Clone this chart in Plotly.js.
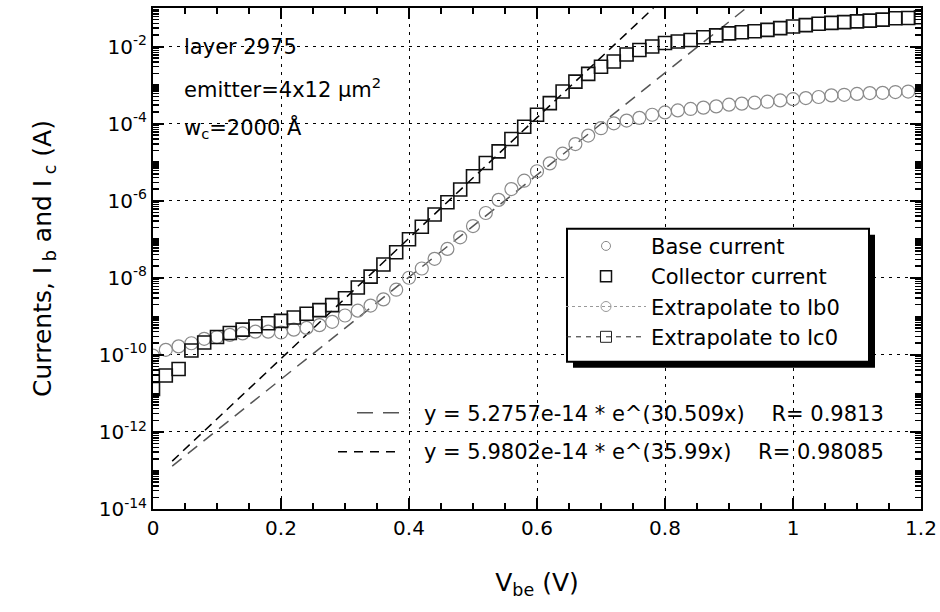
<!DOCTYPE html>
<html>
<head>
<meta charset="utf-8">
<script src="https://cdn.plot.ly/plotly-3.0.1.min.js"></script>
<style>html,body{margin:0;padding:0;background:#fff;}#chart{width:940px;height:612px;}</style>
</head>
<body>
<div id="chart"></div>
<script>
// Vbe (V)
const vbe = [0.00,0.02,0.04,0.06,0.08,0.10,0.12,0.14,0.16,0.18,0.20,0.22,0.24,0.26,0.28,0.30,0.32,0.34,0.36,0.38,0.40,0.42,0.44,0.46,0.48,0.50,0.52,0.54,0.56,0.58,0.60,0.62,0.64,0.66,0.68,0.70,0.72,0.74,0.76,0.78,0.80,0.82,0.84,0.86,0.88,0.90,0.92,0.94,0.96,0.98,1.00,1.02,1.04,1.06,1.08,1.10,1.12,1.14,1.16,1.18,1.20];
// Base current Ib (A)
const baseCurrent = [9.5e-11,1.35e-10,1.66e-10,2.0e-10,2.6e-10,2.9e-10,3.3e-10,3.6e-10,4.0e-10,4.0e-10,3.8e-10,4.5e-10,5.0e-10,5.9e-10,7.2e-10,1.05e-9,1.4e-9,1.9e-9,2.75e-9,4.9e-9,1.0e-8,1.74e-8,3.1e-8,5.6e-8,1.12e-7,2.2e-7,4.8e-7,1.05e-6,2.0e-6,3.3e-6,5.8e-6,9.3e-6,1.66e-5,2.95e-5,4.9e-5,7.6e-5,1.02e-4,1.2e-4,1.41e-4,1.7e-4,1.95e-4,2.2e-4,2.4e-4,2.6e-4,2.8e-4,3.1e-4,3.3e-4,3.5e-4,3.7e-4,4.0e-4,4.3e-4,4.6e-4,4.9e-4,5.4e-4,5.6e-4,5.9e-4,6.2e-4,6.3e-4,6.6e-4,6.8e-4,6.9e-4];
// Collector current Ic (A)
const collectorCurrent = [1.3e-11,2.9e-11,4.3e-11,1.3e-10,2.1e-10,2.9e-10,3.7e-10,4.5e-10,5.5e-10,6.6e-10,7.6e-10,9.3e-10,1.17e-9,1.45e-9,1.95e-9,2.95e-9,5.6e-9,1.07e-8,2.2e-8,4.6e-8,1.0e-7,2.1e-7,4.4e-7,9.1e-7,1.95e-6,4.3e-6,9.5e-6,1.9e-5,4.0e-5,8.3e-5,1.7e-4,3.4e-4,6.8e-4,1.23e-3,1.95e-3,3.0e-3,4.1e-3,6.2e-3,8.1e-3,1.0e-2,1.23e-2,1.35e-2,1.48e-2,1.74e-2,1.95e-2,2.2e-2,2.35e-2,2.5e-2,2.7e-2,3.0e-2,3.3e-2,3.6e-2,3.9e-2,4.1e-2,4.3e-2,4.5e-2,4.7e-2,5.0e-2,5.4e-2,5.5e-2,5.75e-2];
// Extrapolated fit lines (end points)
const ibFitV = [0.03, 0.927];
const ibFitI = [1.3e-13, 1.0e-1];
const icFitV = [0.03, 0.782];
const icFitI = [1.75e-13, 1.0e-1];
// Legend names
const seriesNames = ['Base current','Collector current','Extrapolate to Ib0','Extrapolate to Ic0'];
// Y tick labels (labelled decades) and unlabelled decades
const yTickVals = [1e-14,1e-12,1e-10,1e-8,1e-6,1e-4,1e-2];
const yTickText = ['10<sup>-14</sup>','10<sup>-12</sup>','10<sup>-10</sup>','10<sup>-8</sup>','10<sup>-6</sup>','10<sup>-4</sup>','10<sup>-2</sup>'];
const yOddDecades = [1e-13,1e-11,1e-9,1e-7,1e-5,1e-3];
// Fit equations
const fitText = ['y = 5.2757e-14 * e^(30.509x)    R= 0.9813','y = 5.9802e-14 * e^(35.99x)    R= 0.98085'];

const FONT = 'DejaVu Sans, Arial, sans-serif';
const L = 153, R = 921, T = 8.2, B = 509.3;
const px = v => (v - L) / (R - L);
const py = v => (B - v) / (B - T);

const traces = [
  {x: ibFitV, y: ibFitI, mode: 'lines', line: {color: '#555', width: 1.5, dash: '12px,8px'}, showlegend: false, hoverinfo: 'skip'},
  {x: icFitV, y: icFitI, mode: 'lines', line: {color: '#000', width: 1.5, dash: '9px,6px'}, showlegend: false, hoverinfo: 'skip'},
  {x: vbe, y: baseCurrent, mode: 'markers', marker: {symbol: 'circle-open', size: 13, color: '#8a8a8a', line: {width: 1.2}}, showlegend: false},
  {x: vbe, y: collectorCurrent, mode: 'markers', marker: {symbol: 'square-open', size: 13, color: '#111', line: {width: 1.6}}, showlegend: false},
  // legend entries
  {x: [null], y: [null], name: seriesNames[0], mode: 'markers', marker: {symbol: 'circle-open', size: 9, color: '#888', line: {width: 1}}},
  {x: [null], y: [null], name: seriesNames[1], mode: 'markers', marker: {symbol: 'square-open', size: 11, color: '#111', line: {width: 1.5}}},
  {x: [null], y: [null], name: seriesNames[2], mode: 'lines+markers', line: {color: '#999', width: 1, dash: 'dot'}, marker: {symbol: 'circle-open', size: 10, color: '#999', line: {width: 1}}},
  {x: [null], y: [null], name: seriesNames[3], mode: 'lines+markers', line: {color: '#222', width: 1, dash: '5px,5px'}, marker: {symbol: 'square-open', size: 11, color: '#222', line: {width: 1}}}
];

const layout = {
  width: 940, height: 612,
  margin: {l: L, r: 940 - R, t: T, b: 612 - B},
  paper_bgcolor: 'white', plot_bgcolor: 'white',
  font: {family: FONT, size: 20, color: 'black'},
  showlegend: true,
  legend: {x: px(561), y: py(226), xanchor: 'left', yanchor: 'top', bgcolor: 'rgba(0,0,0,0)', borderwidth: 0,
           font: {family: FONT, size: 21, color: 'black'}, itemwidth: 80, tracegroupgap: 0},
  xaxis: {
    range: [0, 1.2], dtick: 0.2, tick0: 0,
    showline: true, linecolor: 'black', linewidth: 2, mirror: 'allticks',
    ticks: 'inside', ticklen: 11, tickwidth: 2, tickcolor: 'black',
    minor: {dtick: 0.05, ticks: 'inside', ticklen: 6, tickwidth: 1.5, tickcolor: 'black'},
    showgrid: true, gridcolor: 'black', gridwidth: 1, griddash: '3px,5px', zeroline: false,
    tickfont: {family: FONT, size: 20},
    title: {text: 'V<sub>be</sub> (V)', font: {family: FONT, size: 25}, standoff: 34}
  },
  yaxis: {
    type: 'log', range: [-14, -1],
    tickmode: 'array', tickvals: yTickVals, ticktext: yTickText,
    showline: true, linecolor: 'black', linewidth: 2, mirror: 'allticks',
    ticks: 'inside', ticklen: 11, tickwidth: 2, tickcolor: 'black',
    minor: {dtick: 'D1', ticks: 'inside', ticklen: 6, tickwidth: 1.5, tickcolor: 'black'},
    showgrid: true, gridcolor: 'black', gridwidth: 1, griddash: '3px,5px', zeroline: false,
    tickfont: {family: FONT, size: 20},
    title: {text: 'Currents, I<sub> b</sub> and I<sub> c</sub> (A)', font: {family: FONT, size: 25}, standoff: 40}
  },
  yaxis2: {
    type: 'log', range: [-14, -1], overlaying: 'y', side: 'left',
    tickmode: 'array', tickvals: yOddDecades, showticklabels: false,
    showline: true, linecolor: 'black', linewidth: 2, mirror: 'allticks',
    ticks: 'inside', ticklen: 11, tickwidth: 2, tickcolor: 'black',
    showgrid: true, gridcolor: 'black', gridwidth: 1, griddash: '3px,5px', zeroline: false
  },
  shapes: [
    {type: 'rect', xref: 'paper', yref: 'paper', x0: px(573), x1: px(875), y0: py(368), y1: py(235), fillcolor: 'black', line: {width: 0}, layer: 'above'},
    {type: 'rect', xref: 'paper', yref: 'paper', x0: px(567), x1: px(869), y0: py(362), y1: py(229), fillcolor: 'white', line: {width: 2, color: 'black'}, layer: 'above'},
    {type: 'line', xref: 'paper', yref: 'paper', x0: px(357), x1: px(410), y0: py(413), y1: py(413), line: {color: '#555', width: 1.5, dash: '16px,10px'}},
    {type: 'line', xref: 'paper', yref: 'paper', x0: px(338), x1: px(400), y0: py(452), y1: py(452), line: {color: 'black', width: 1.5, dash: '9px,7px'}}
  ],
  annotations: [
    {xref: 'paper', yref: 'paper', x: px(182), y: py(47), xanchor: 'left', yanchor: 'middle', showarrow: false, text: 'layer 2975', font: {family: FONT, size: 21}},
    {xref: 'paper', yref: 'paper', x: px(182), y: py(88), xanchor: 'left', yanchor: 'middle', showarrow: false, text: 'emitter=4x12 \u03bcm<sup>2</sup>', font: {family: FONT, size: 21}},
    {xref: 'paper', yref: 'paper', x: px(182), y: py(128), xanchor: 'left', yanchor: 'middle', showarrow: false, text: 'w<sub>c</sub>=2000 \u00c5', font: {family: FONT, size: 21}},
    {xref: 'paper', yref: 'paper', x: px(422), y: py(414), xanchor: 'left', yanchor: 'middle', showarrow: false, text: fitText[0], font: {family: FONT, size: 21}},
    {xref: 'paper', yref: 'paper', x: px(422), y: py(452), xanchor: 'left', yanchor: 'middle', showarrow: false, text: fitText[1], font: {family: FONT, size: 21}}
  ]
};

Plotly.newPlot('chart', traces, layout, {staticPlot: true, displayModeBar: false});
</script>
</body>
</html>
